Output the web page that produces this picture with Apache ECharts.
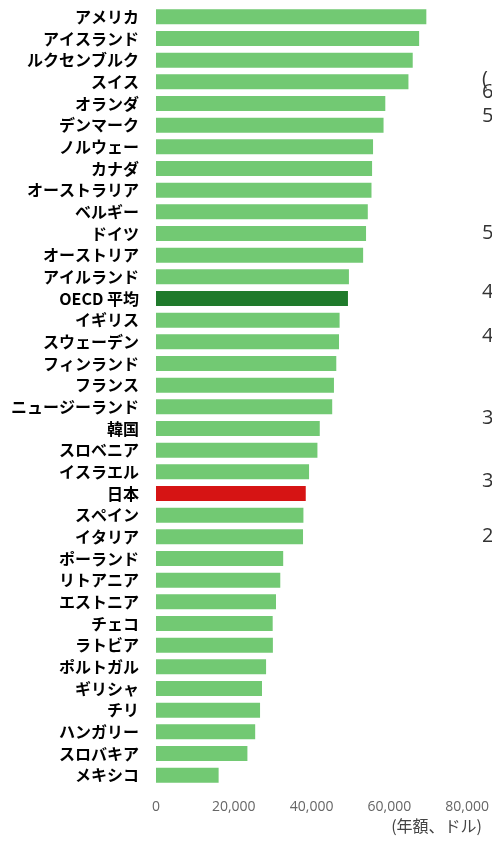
<!DOCTYPE html>
<html>
<head>
<meta charset="utf-8">
<script src="https://cdn.jsdelivr.net/npm/echarts@6/dist/echarts.min.js"></script>
<style>
html,body{margin:0;padding:0;background:#fff;}
#chart{width:492px;height:842px;}
</style>
</head>
<body>
<div id="chart"></div>
<script>
var categories = ['アメリカ','アイスランド','ルクセンブルク','スイス','オランダ','デンマーク','ノルウェー','カナダ','オーストラリア','ベルギー','ドイツ','オーストリア','アイルランド','OECD 平均','イギリス','スウェーデン','フィンランド','フランス','ニュージーランド','韓国','スロベニア','イスラエル','日本','スペイン','イタリア','ポーランド','リトアニア','エストニア','チェコ','ラトビア','ポルトガル','ギリシャ','チリ','ハンガリー','スロバキア','メキシコ'];
var values = [69500,67650,66000,64900,58950,58500,55800,55550,55400,54450,54000,53250,49600,49350,47200,47050,46350,45750,45300,42100,41500,39350,38500,37900,37800,32700,31950,30850,30000,30050,28300,27250,26750,25500,23500,16100];
var xTicks = [0,20000,40000,60000,80000];
var unitLabel = '(年額、ドル)';
var edgeFragments = ['(', '6', '5', '5', '4', '4', '3', '3', '2'];
var edgeFragmentY = [78, 91, 115, 232, 291, 335, 417, 480, 535];

var colorNormal = '#72c973';
var colorOECD = '#1f7a2b';
var colorJapan = '#d61414';

var chart = echarts.init(document.getElementById('chart'));
var barData = values.map(function(v, i){
  var c = colorNormal;
  if (categories[i] === 'OECD 平均') c = colorOECD;
  if (categories[i] === '日本') c = colorJapan;
  return {value: v, itemStyle: {color: c}};
});
var graphics = [{
  type: 'text', right: 10, top: 818,
  style: {text: unitLabel, font: '16px "Noto Sans CJK JP", sans-serif', fill: '#444'}
}];
edgeFragments.forEach(function(t, i){
  graphics.push({type: 'text', left: 482, top: edgeFragmentY[i] - 9,
    style: {text: t, font: '20px "Open Sans", "Noto Sans", sans-serif', fill: '#333'}});
});
chart.setOption({
  animation: false,
  backgroundColor: '#ffffff',
  grid: {left: 156, right: 23, top: 6, bottom: 56, containLabel: false},
  xAxis: {
    type: 'value', min: xTicks[0], max: xTicks[xTicks.length-1], interval: 20000,
    axisLine: {show: false}, axisTick: {show: false}, splitLine: {show: false},
    axisLabel: {
      margin: 14, color: '#666', fontSize: 14, fontFamily: '"Open Sans", "Noto Sans", sans-serif',
      formatter: function(v){ return v === 0 ? '0' : v.toLocaleString('en-US'); }
    }
  },
  yAxis: {
    type: 'category', inverse: true, data: categories,
    axisLine: {show: false}, axisTick: {show: false},
    axisLabel: {margin: 17, color: '#000', fontSize: 16, fontWeight: 'bold',
      fontFamily: '"Noto Sans CJK JP", sans-serif'}
  },
  series: [{
    type: 'bar', data: barData, barWidth: 15
  }],
  graphic: graphics
});
</script>
</body>
</html>
